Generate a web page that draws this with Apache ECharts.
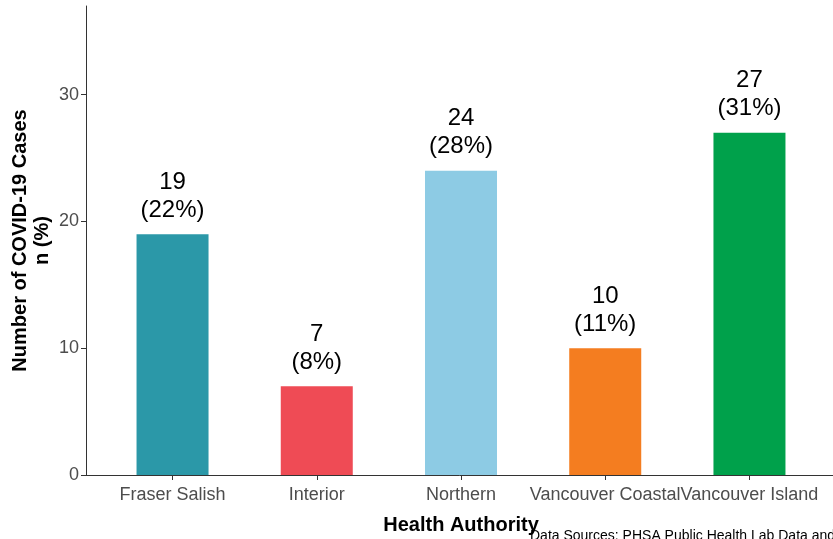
<!DOCTYPE html>
<html><head><meta charset="utf-8">
<script src="https://cdn.jsdelivr.net/npm/echarts@6/dist/echarts.min.js"></script>
<style>html,body{margin:0;padding:0;background:#fff}#c{width:833px;height:539px}</style>
</head><body><div id="c"></div>
<script>
const categories = ['Fraser Salish', 'Interior', 'Northern', 'Vancouver Coastal', 'Vancouver Island'];
const cases = [19, 7, 24, 10, 27];
const percents = [22, 8, 28, 11, 31];
const colors = ['#2B98A8', '#EF4B55', '#8DCBE4', '#F47D20', '#00A14B'];
const yTicks = [0, 10, 20, 30];

const chart = echarts.init(document.getElementById('c'));
const data = cases.map((v, i) => ({
  value: [i + 1, v],
  itemStyle: { color: colors[i] },
  label: { formatter: v + '\n(' + percents[i] + '%)' }
}));
const FF = 'Liberation Sans, Arial';
chart.setOption({
  animation: false,
  grid: { left: 86, right: -3, top: 6, bottom: 64, containLabel: false, outerBoundsMode: 'none' },
  xAxis: {
    type: 'value', min: 0.4, max: 5.6, interval: 1,
    splitLine: { show: false },
    axisLine: { show: true, lineStyle: { color: '#333', width: 1 } },
    axisTick: { show: true, length: 5, lineStyle: { color: '#333' }, customValues: [1,2,3,4,5] },
    axisLabel: { customValues: [1,2,3,4,5], formatter: v => categories[Math.round(v) - 1] || '', color: '#4D4D4D', fontSize: 18, fontFamily: FF, margin: 11 },
    name: 'Health Authority', nameLocation: 'middle', nameGap: 40, nameMoveOverlap: false,
    nameTextStyle: { fontSize: 20, fontWeight: 'bold', color: '#000', fontFamily: FF }
  },
  yAxis: {
    type: 'value', min: 0, max: 37,
    splitLine: { show: false },
    axisLine: { show: true, lineStyle: { color: '#333', width: 1 } },
    axisTick: { show: true, length: 5, lineStyle: { color: '#333' }, customValues: yTicks },
    axisLabel: { customValues: yTicks, color: '#4D4D4D', fontSize: 18, fontFamily: FF, margin: 7 },
    name: 'Number of COVID-19 Cases\nn (%)', nameLocation: 'middle', nameGap: 33, nameMoveOverlap: false,
    nameTextStyle: { fontSize: 20, fontWeight: 'bold', color: '#000', fontFamily: FF, lineHeight: 22 }
  },
  series: [{
    type: 'bar', barWidth: 72, data: data,
    label: { show: true, position: 'top', distance: 10, color: '#000', fontSize: 24, lineHeight: 28, fontFamily: FF, align: 'center' }
  }],
  graphic: [{
    type: 'text', left: 530, top: 529,
    style: { text: 'Data Sources: PHSA Public Health Lab Data and', fontSize: 14, fill: '#000', fontFamily: FF }
  }]
});
</script></body></html>
